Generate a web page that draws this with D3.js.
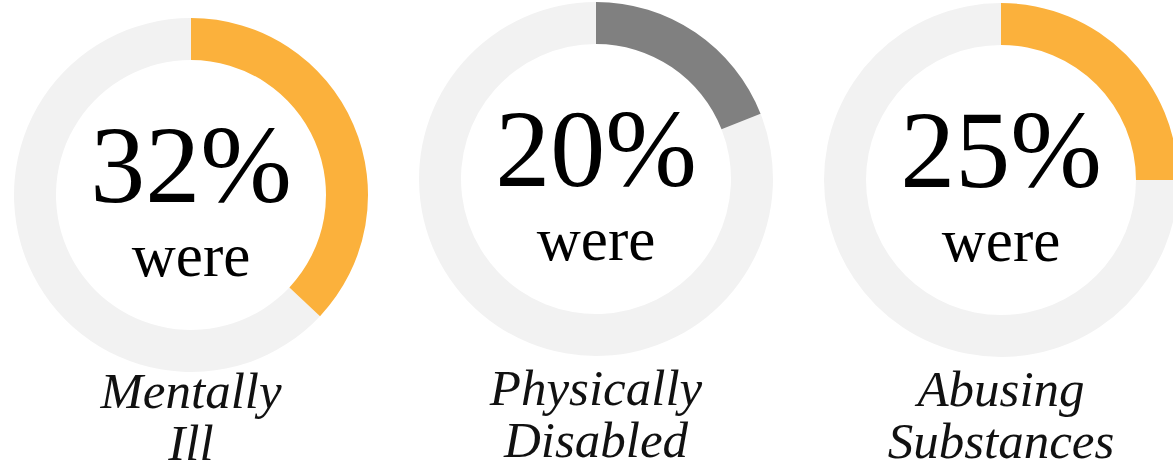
<!DOCTYPE html>
<html>
<head>
<meta charset="utf-8">
<script src="https://cdn.jsdelivr.net/npm/d3@7"></script>
<style>
  html, body { margin: 0; padding: 0; background: #fff; overflow: hidden; }
  svg { display: block; }
</style>
</head>
<body>
<svg class="donuts" width="1173" height="468"></svg>
<script>
// values
var percentLabels = ['32%', '20%', '25%'];
var arcShares = [37, 19, 25];        // share of ring that is filled
var labelLines = [['Mentally', 'Ill'], ['Physically', 'Disabled'], ['Abusing', 'Substances']];
var fillColors = ['#fbb13c', '#808080', '#fbb13c'];

var trackColor = '#f2f2f2';
var outerR = 177;
var innerR = 135;
var centers = [[191, 195], [596, 179], [1001, 180]];
var labelTop = [408, 405, 406];

var svg = d3.select('svg.donuts');

var angle = d3.scaleLinear().domain([0, 100]).range([0, 2 * Math.PI]);

var arc = d3.arc()
  .innerRadius(innerR)
  .outerRadius(outerR);

var groups = svg.selectAll('g.donut')
  .data(arcShares)
  .enter()
  .append('g')
  .attr('class', 'donut')
  .attr('transform', function(d, i) { return 'translate(' + centers[i][0] + ',' + centers[i][1] + ')'; });

// background ring
groups.append('path')
  .attr('fill', trackColor)
  .attr('d', function(d) { return arc({ startAngle: angle(d), endAngle: angle(100) }); });

// filled part
groups.append('path')
  .attr('fill', function(d, i) { return fillColors[i]; })
  .attr('d', function(d) { return arc({ startAngle: 0, endAngle: angle(d) }); });

groups.append('text')
  .attr('text-anchor', 'middle')
  .attr('y', 7)
  .attr('font-family', '"Liberation Serif", serif')
  .attr('font-size', 110)
  .attr('fill', '#000')
  .text(function(d, i) { return percentLabels[i]; });

groups.append('text')
  .attr('text-anchor', 'middle')
  .attr('y', 81)
  .attr('font-family', '"Liberation Serif", serif')
  .attr('font-size', 61)
  .attr('fill', '#000')
  .text('were');

groups.each(function(d, i) {
  var t = d3.select(this).append('text')
    .attr('text-anchor', 'middle')
    .attr('font-family', '"Liberation Serif", serif')
    .attr('font-style', 'italic')
    .attr('font-size', 51)
    .attr('fill', '#111');
  labelLines[i].forEach(function(line, j) {
    t.append('tspan')
      .attr('x', 0)
      .attr('y', labelTop[i] - centers[i][1] + j * 52)
      .text(line);
  });
});
</script>
</body>
</html>
